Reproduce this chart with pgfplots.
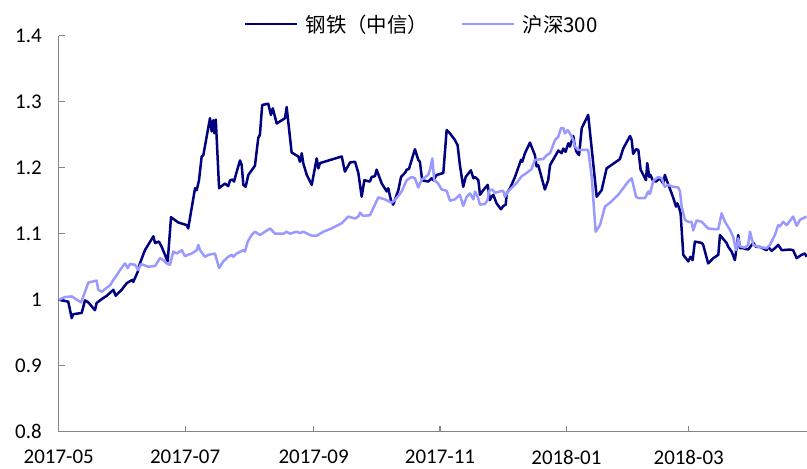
\documentclass[border=0pt]{standalone}
\usepackage{fontspec}
\usepackage{pgfplots}
\pgfplotsset{compat=1.18}
\setmainfont{Carlito}
\newfontfamily\cjk{Noto Sans CJK SC}
\definecolor{steel}{RGB}{0,0,128}
\definecolor{hs}{RGB}{153,153,255}
\definecolor{axgray}{RGB}{134,134,134}
\begin{document}
\begin{tikzpicture}
\begin{axis}[
  at={(58.7bp,37.3bp)}, anchor=south west,
  scale only axis, width=748.3bp, height=396bp,
  xmin=0, xmax=361.1, ymin=0.8, ymax=1.4,
  axis x line*=bottom, axis y line*=left,
  axis line style={draw=axgray, line width=1.3bp, -},
  tick align=inside, major tick length=6bp,
  tick style={draw=axgray, line width=1.1bp},
  xtick={0,61,123,184,245,304},
  xticklabels={2017-05,2017-07,2017-09,2017-11,2018-01,2018-03},
  ytick={0.8,0.9,1,1.1,1.2,1.3,1.4},
  /pgf/number format/assume math mode=true,
  ticklabel style={font=\fontsize{21}{24}\selectfont, text=black},
  xticklabel style={inner sep=0pt, yshift=-18.5bp},
  yticklabel style={xshift=-13.5bp},
  legend columns=2,
  legend style={at={(0.2476,1.0290)}, anchor=west, draw=none, fill=none,
    font=\cjk\fontsize{20.5}{24}\selectfont, inner sep=0pt,
    /tikz/every odd column/.append style={column sep=5bp},
    /tikz/every even column/.append style={column sep=31bp}},
  legend image code/.code={\draw[#1] (0bp,0bp) -- (52bp,0bp);},
]
\addplot[steel, line width=2.5bp, line join=round] coordinates {
(0,1.000)(4.6,0.997)(6.3,0.972)(7.0,0.978)(11.1,0.980)(12.7,0.999)(14.3,0.996)
(17.5,0.984)(18.3,0.995)(20.8,1.001)(23.2,1.006)(26.4,1.015)(27.5,1.006)(30.4,1.015)
(32.8,1.025)(35.5,1.030)(36.0,1.027)(38.1,1.042)(39.2,1.055)(41.6,1.075)(45.7,1.096)
(46.5,1.086)(48.4,1.088)(49.7,1.080)(52.6,1.058)(54.2,1.125)(57.7,1.117)(61.8,1.113)
(62.5,1.108)(65.8,1.169)(66.6,1.166)(67.7,1.181)(69.0,1.217)(69.8,1.219)(73.0,1.275)
(73.8,1.255)(74.6,1.272)(75.1,1.252)(75.8,1.273)(77.4,1.169)(80.2,1.176)(81.8,1.172)
(82.7,1.181)(83.8,1.182)(84.6,1.179)(85.9,1.194)(87.5,1.211)(88.3,1.204)(89.1,1.174)
(90.2,1.171)(91.5,1.189)(94.7,1.203)(96.3,1.245)(97.1,1.250)(98.2,1.295)(101.1,1.297)
(102.4,1.280)(103.3,1.290)(105.2,1.267)(109.2,1.275)(110.0,1.292)(112.4,1.223)
(115.6,1.217)(116.4,1.209)(117.3,1.222)(118.0,1.207)(119.7,1.189)(122.1,1.174)
(124.5,1.214)(125.3,1.199)(126.1,1.207)(136.6,1.217)(138.1,1.194)(140.6,1.208)
(143.0,1.209)(144.6,1.192)(146.2,1.156)(147.5,1.181)(150.2,1.179)(151.0,1.186)
(152.6,1.187)(153.4,1.197)(155.9,1.176)(158.3,1.164)(159.0,1.169)(160.3,1.151)
(161.4,1.144)(163.9,1.166)(165.2,1.186)(167.1,1.192)(167.9,1.197)(169.0,1.198)
(171.9,1.228)(173.5,1.212)(174.3,1.209)(175.4,1.181)(178.3,1.179)(180.0,1.184)
(180.8,1.181)(182.4,1.189)(185.6,1.192)(187.2,1.257)(188.8,1.252)(191.2,1.242)
(192.5,1.234)(193.6,1.204)(195.2,1.171)(196.4,1.186)(198.9,1.196)(200.1,1.184)
(200.9,1.186)(202.5,1.181)(203.3,1.159)(204.9,1.166)(207.0,1.174)(208.1,1.151)
(208.9,1.156)(209.7,1.159)(211.3,1.146)(213.4,1.137)(214.5,1.142)(215.7,1.144)
(216.2,1.161)(217.8,1.169)(220.2,1.186)(223.1,1.212)(223.7,1.209)(225.0,1.222)
(227.4,1.238)(229.8,1.219)(230.6,1.202)(231.4,1.204)(232.7,1.189)(234.6,1.167)
(236.2,1.181)(237.1,1.204)(239.5,1.217)(241.1,1.226)(242.7,1.222)(243.5,1.229)
(244.6,1.224)(245.9,1.237)(246.7,1.232)(248.3,1.248)(249.1,1.232)(249.9,1.224)
(251.1,1.219)(252.4,1.260)(255.5,1.280)(257.2,1.229)(259.6,1.156)(262.0,1.166)
(264.4,1.199)(270.8,1.213)(272.4,1.229)(275.7,1.248)(276.5,1.242)(277.2,1.221)
(278.6,1.228)(279.7,1.227)(280.8,1.197)(282.1,1.189)(283.4,1.181)(284.0,1.207)
(285.0,1.186)(285.6,1.189)(286.6,1.181)(288.2,1.179)(290.1,1.184)(291.7,1.176)
(292.5,1.189)(293.4,1.181)(294.6,1.171)(295.8,1.161)(296.9,1.151)(297.9,1.141)
(298.5,1.146)(299.4,1.139)(300.1,1.131)(301.4,1.068)(303.8,1.058)(304.9,1.065)
(305.9,1.060)(307.0,1.088)(310.3,1.086)(311.0,1.083)(313.4,1.055)(315.9,1.063)
(318.3,1.068)(319.1,1.098)(320.4,1.093)(322.3,1.086)(323.1,1.080)(324.7,1.073)
(326.3,1.060)(327.9,1.098)(328.7,1.078)(330.3,1.078)(332.7,1.076)(335.2,1.086)
(336.5,1.080)(338.4,1.080)(341.6,1.075)(342.4,1.080)(344.0,1.074)(345.6,1.078)
(347.2,1.083)(348.9,1.075)(352.9,1.076)(354.4,1.075)(356.1,1.063)(358.5,1.068)
(360.1,1.070)(360.9,1.065)
};
\addlegendentry{钢铁（中信）}
\addplot[hs, line width=2.5bp, line join=round] coordinates {
(0,1.000)(3.0,1.004)(6.3,1.005)(8.7,1.000)(10.8,0.996)(12.7,1.012)(14.3,1.026)
(18.3,1.029)(19.1,1.015)(20.8,1.012)(22.3,1.016)(24.8,1.022)(26.4,1.030)(28.0,1.037)
(29.6,1.045)(32.0,1.055)(33.3,1.048)(34.4,1.054)(36.8,1.053)(38.4,1.045)(39.7,1.054)
(43.2,1.050)(46.5,1.051)(47.3,1.055)(48.9,1.063)(50.5,1.060)(52.1,1.055)(53.7,1.053)
(55.3,1.073)(56.9,1.070)(59.4,1.075)(60.9,1.066)(62.5,1.068)(64.2,1.070)(66.6,1.075)
(67.4,1.083)(68.2,1.075)(70.6,1.065)(72.2,1.068)(75.4,1.070)(77.4,1.048)(79.4,1.058)
(81.8,1.065)(83.5,1.068)(84.3,1.065)(85.9,1.070)(89.1,1.075)(89.9,1.073)(91.2,1.088)
(93.1,1.098)(94.7,1.103)(97.1,1.098)(102.0,1.108)(104.4,1.100)(108.4,1.100)(110.0,1.103)
(111.6,1.100)(114.8,1.103)(116.4,1.101)(118.0,1.103)(122.1,1.097)(124.5,1.097)
(127.7,1.103)(131.7,1.108)(136.6,1.116)(139.7,1.126)(143.0,1.123)(144.6,1.126)
(145.4,1.132)(147.0,1.127)(150.2,1.128)(152.6,1.144)(154.2,1.155)(157.4,1.152)
(160.7,1.147)(163.1,1.154)(165.5,1.164)(167.9,1.181)(170.3,1.186)(171.9,1.184)
(173.5,1.170)(175.2,1.182)(178.3,1.189)(179.2,1.197)(180.3,1.214)(181.2,1.181)
(182.9,1.177)(184.8,1.167)(187.2,1.165)(188.8,1.150)(191.2,1.152)(193.6,1.159)
(195.2,1.142)(196.9,1.156)(198.5,1.161)(200.1,1.152)(200.9,1.164)(202.2,1.156)
(203.3,1.144)(205.7,1.145)(207.0,1.151)(207.6,1.165)(209.2,1.167)(210.5,1.162)
(212.9,1.164)(214.5,1.165)(215.3,1.156)(216.9,1.164)(219.4,1.172)(221.0,1.177)
(223.4,1.187)(225.8,1.192)(228.2,1.198)(229.8,1.212)(233.8,1.213)(235.5,1.219)
(237.1,1.222)(239.5,1.242)(241.1,1.247)(242.4,1.260)(243.5,1.260)(244.3,1.252)
(245.6,1.257)(246.7,1.252)(248.3,1.242)(249.1,1.232)(250.7,1.227)(255.5,1.227)
(257.2,1.186)(259.1,1.103)(261.2,1.113)(263.6,1.141)(266.8,1.149)(270.0,1.159)
(272.4,1.169)(274.8,1.179)(276.5,1.184)(278.6,1.156)(279.7,1.154)(282.9,1.154)
(284.5,1.164)(285.3,1.160)(286.9,1.180)(289.3,1.186)(291.0,1.184)(292.5,1.171)
(294.1,1.174)(296.6,1.171)(299.0,1.170)(299.8,1.164)(300.6,1.141)(302.2,1.121)
(303.8,1.118)(305.4,1.118)(306.2,1.105)(307.8,1.120)(310.3,1.118)(311.8,1.113)
(313.4,1.108)(315.9,1.107)(318.3,1.107)(319.9,1.131)(321.5,1.118)(323.9,1.106)
(325.5,1.095)(326.8,1.075)(327.9,1.093)(328.7,1.081)(331.1,1.079)(332.7,1.083)
(333.6,1.103)(335.2,1.083)(337.6,1.080)(340.0,1.079)(341.6,1.078)(343.2,1.083)
(345.6,1.098)(347.2,1.113)(348.0,1.111)(349.6,1.118)(351.3,1.113)(354.4,1.126)
(356.1,1.112)(357.7,1.121)(360.9,1.126)
};
\addlegendentry{沪深300}
\end{axis}
\pgfresetboundingbox
\useasboundingbox (0bp,0bp) rectangle (807bp,469bp);
\end{tikzpicture}
\end{document}
